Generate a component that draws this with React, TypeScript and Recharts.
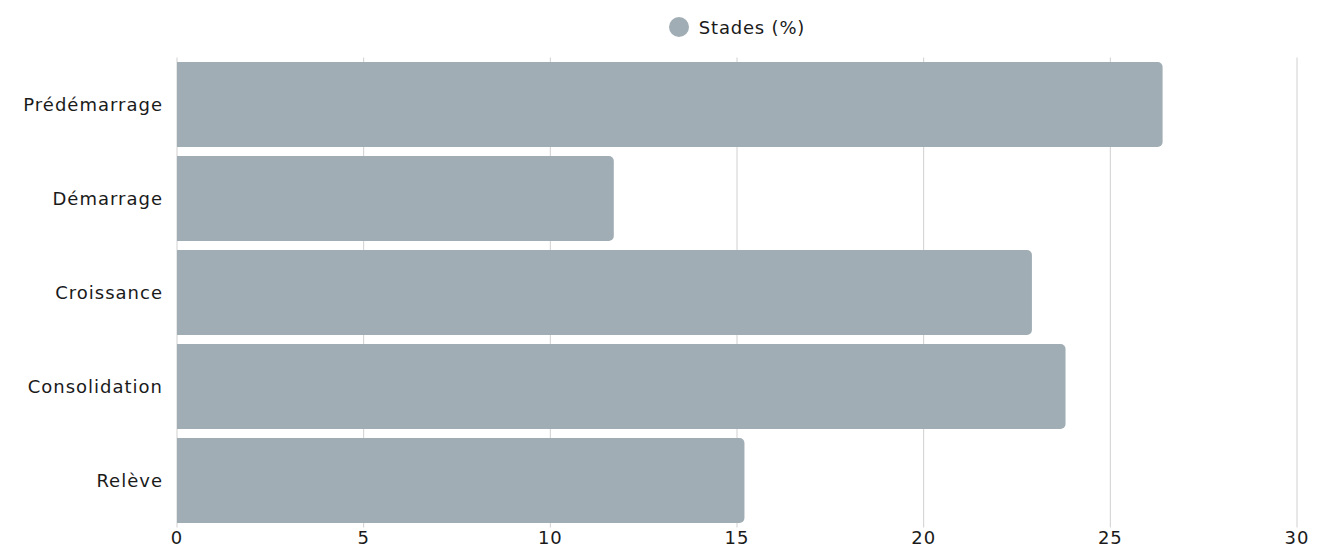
import React from 'react';
import { BarChart, Bar, XAxis, YAxis, CartesianGrid, Legend } from 'recharts';

const stages = ['Prédémarrage', 'Démarrage', 'Croissance', 'Consolidation', 'Relève'];
const percentages = [26.4, 11.7, 22.9, 23.8, 15.2];
const xTicks = [0, 5, 10, 15, 20, 25, 30];

const data = stages.map((stage, i) => ({ stage, value: percentages[i] }));

const FONT = '"DejaVu Sans", sans-serif';
const BAR_COLOR = '#a1adb4';
const tickStyle = { fontSize: 18, fill: '#1a1a1a', fontFamily: FONT, letterSpacing: 1 };

const LegendContent = () => (
    <div style={{ height: 24, display: 'flex', alignItems: 'center', justifyContent: 'center', fontFamily: FONT, fontSize: 18, letterSpacing: 0.8, color: '#1a1a1a' }}>
        <span style={{ width: 20, height: 20, borderRadius: '50%', background: BAR_COLOR, display: 'inline-block', marginRight: 10 }} />
        Stades (%)
    </div>
);

export default function App() {
    return (
        <div style={{ position: 'absolute', left: 0, top: 0, background: '#fff' }}>
            <BarChart
                width={1318}
                height={549}
                data={data}
                layout="vertical"
                margin={{ top: 33.5, right: 21, bottom: 0, left: 0 }}
                barCategoryGap={4.5}
            >
                <CartesianGrid horizontal={false} stroke="#d0d0d0" />
                <XAxis
                    type="number"
                    domain={[0, 30]}
                    ticks={xTicks}
                    axisLine={false}
                    tickLine={false}
                    tickSize={0}
                    tickMargin={4}
                    height={21.5}
                    tick={tickStyle}
                />
                <YAxis
                    type="category"
                    dataKey="stage"
                    width={177}
                    axisLine={false}
                    tickLine={false}
                    tickSize={0}
                    tickMargin={14}
                    tick={tickStyle}
                />
                <Legend
                    verticalAlign="top"
                    content={<LegendContent />}
                    wrapperStyle={{ top: 15, left: 177, width: 1120 }}
                />
                <Bar dataKey="value" name="Stades (%)" fill={BAR_COLOR} radius={[0, 5, 5, 0]} isAnimationActive={false} />
            </BarChart>
        </div>
    );
}
